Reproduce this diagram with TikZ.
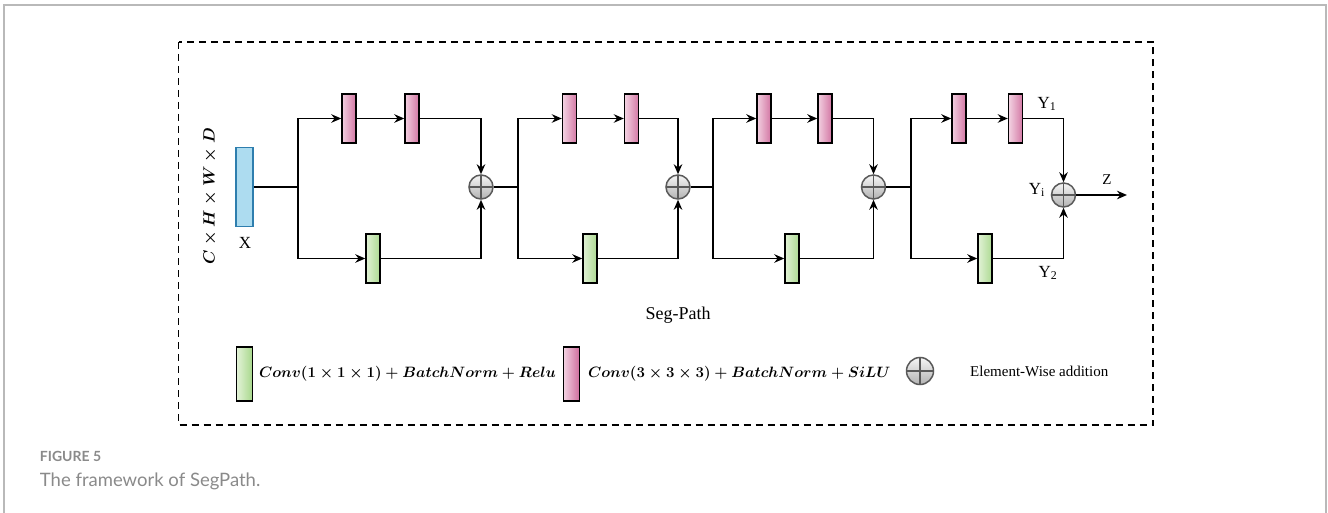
\RequirePackage{fix-cm}
\documentclass[tikz,border=0pt]{standalone}
\usepackage{amsmath}
\usepackage{fontspec}
\setmainfont{Liberation Serif}
\newfontfamily\capfont{Lato}
\usetikzlibrary{positioning,arrows.meta}
\definecolor{pinkl}{HTML}{F2D0E0}
\definecolor{pinkr}{HTML}{CC6497}
\definecolor{greenl}{HTML}{E2F2D6}
\definecolor{greenr}{HTML}{A2D585}
\definecolor{bluefill}{HTML}{ADDCF0}
\definecolor{blueline}{HTML}{2E7EAE}
\definecolor{capgray}{HTML}{8A8A8A}
\tikzset{
  blk/.style={draw=black,line width=1.4pt,inner sep=0pt,minimum width=14pt,minimum height=49pt},
  pinkblk/.style={blk,fill=pinkl,path picture={
    \foreach \i in {0,...,15}{\pgfmathtruncatemacro\m{\i*6}
      \fill[pinkr!\m!pinkl] ([xshift=\i pt]path picture bounding box.south west)
        rectangle ([xshift=\i pt+1.2pt]path picture bounding box.north west);}}},
  greenblk/.style={blk,fill=greenl,path picture={
    \foreach \i in {0,...,15}{\pgfmathtruncatemacro\m{\i*6}
      \fill[greenr!\m!greenl] ([xshift=\i pt]path picture bounding box.south west)
        rectangle ([xshift=\i pt+1.2pt]path picture bounding box.north west);}}},
  inblk/.style={draw=blueline,fill=bluefill,line width=1.6pt,inner sep=0pt,minimum width=17pt,minimum height=79pt},
  sumnode/.style={circle,draw=gray!70!black,line width=1.5pt,inner sep=0pt,minimum size=24pt,
    top color=gray!8,bottom color=gray!60,
    path picture={\draw[gray!70!black,line width=1.4pt]
      (path picture bounding box.north)--(path picture bounding box.south)
      (path picture bounding box.west)--(path picture bounding box.east);}},
  mathlbl/.style={inner sep=0pt,font=\fontsize{15}{18}\selectfont},
  lbl/.style={font=\fontsize{17}{20}\selectfont}
}
\begin{document}
\begin{tikzpicture}[x=1pt,y=-1pt,line width=1.9pt,>={Stealth[length=10pt,width=8.5pt]},
  font=\fontsize{15}{18}\selectfont]
\useasboundingbox (0,0) rectangle (1328,513);
% page frame and dashed box
\draw[gray!55,line width=1.5pt] (4,513)--(4,5)--(1326,5)--(1326,513);
\draw[line width=1.9pt,dash pattern=on 7pt off 5pt] (178.5,42) rectangle (1153,425);

% input
\node[inblk] (x) at (244.5,187) {};
\node[lbl] (xl) at (245,243) {X};
\node[rotate=90,font=\fontsize{16.3}{19}\selectfont] (dim) at (210,196) {$\boldsymbol{C\times H\times W\times D}$};

% stage 1
\coordinate (b1) at (298,187);
\node[pinkblk] (p11) at (349,118.5) {};
\node[pinkblk] (p12) at (412,118.5) {};
\node[greenblk] (g1) at (373,258.5) {};
\node[sumnode] (s1) at (481,187) {};
% stage 2
\coordinate (b2) at (518,187);
\node[pinkblk] (p21) at (569.5,118.5) {};
\node[pinkblk] (p22) at (631.5,118.5) {};
\node[greenblk] (g2) at (590,258.5) {};
\node[sumnode] (s2) at (678,187) {};
% stage 3
\coordinate (b3) at (713,187);
\node[pinkblk] (p31) at (764,118.5) {};
\node[pinkblk] (p32) at (825,118.5) {};
\node[greenblk] (g3) at (792,258.5) {};
\node[sumnode] (s3) at (873.5,187) {};
% stage 4
\coordinate (b4) at (911,187);
\node[pinkblk] (p41) at (959,118.5) {};
\node[pinkblk] (p42) at (1015.5,118.5) {};
\node[greenblk] (g4) at (985,258.5) {};
\node[sumnode] (s4) at (1063.5,195) {};
\coordinate (zend) at (1127,195);

\draw (x) -- (b1);
\draw[->] (b1) |- (p11);
\draw[->] (p11) -- (p12);
\draw[->] (p12) -| (s1);
\draw[->] (b1) |- (g1);
\draw[->] (g1) -| (s1);
\draw (s1) -- (b2);
\draw[->] (b2) |- (p21);
\draw[->] (p21) -- (p22);
\draw[->] (p22) -| (s2);
\draw[->] (b2) |- (g2);
\draw[->] (g2) -| (s2);
\draw (s2) -- (b3);
\draw[->] (b3) |- (p31);
\draw[->] (p31) -- (p32);
\draw[->] (p32) -| (s3);
\draw[->] (b3) |- (g3);
\draw[->] (g3) -| (s3);
\draw (s3) -- (b4);
\draw[->] (b4) |- (p41);
\draw[->] (p41) -- (p42);
\draw[->] (p42) -| (s4);
\draw[->] (b4) |- (g4);
\draw[->] (g4) -| (s4);
\draw[->] (s4) -- (zend);

\node[lbl] (y1) at (1047,104) {Y\textsubscript{1}};
\node[lbl] (y2) at (1048,273) {Y\textsubscript{2}};
\node[lbl] (yi) at (1037,190) {Y\textsubscript{i}};
\node (zl) at (1107,180) {Z};
\node[font=\fontsize{18}{22}\selectfont] (seg) at (678,315) {Seg-Path};

% legend
\node[greenblk,minimum width=16pt,minimum height=54pt] (lg) at (244.5,374) {};
\node[mathlbl,right=5pt of lg] (lgt) {$\boldsymbol{Conv(1\times 1\times 1)+BatchNorm+Relu}$};
\node[pinkblk,minimum width=16pt,minimum height=54pt] (lp) at (571.5,374) {};
\node[mathlbl,right=7pt of lp] (lpt) {$\boldsymbol{Conv(3\times 3\times 3)+BatchNorm+SiLU}$};
\node[sumnode,minimum size=27pt] (ls) at (920,371) {};
\node[inner sep=0pt,right=35pt of ls] (lst) {Element-Wise addition};

% caption
\node[anchor=west,inner sep=0pt,text=capgray,font=\capfont\bfseries\fontsize{14}{16}\selectfont] (fig) at (39,456) {FIGURE 5};
\node[anchor=west,inner sep=0pt,text=capgray,font=\capfont\fontsize{18.5}{22}\selectfont] (cap) at (39,481) {The framework of SegPath.};
\end{tikzpicture}
\end{document}
